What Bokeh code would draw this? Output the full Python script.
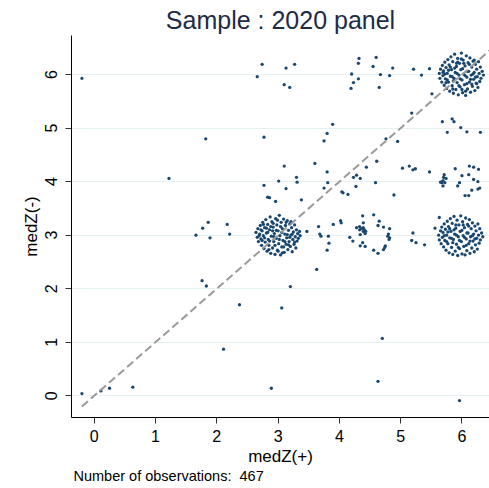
from bokeh.plotting import figure
from bokeh.models import Range1d, FixedTicker, Title
from bokeh.embed import file_html
from bokeh.resources import INLINE

TITLE = "Sample : 2020 panel"
X_LABEL = "medZ(+)"
Y_LABEL = "medZ(-)"
NOTE = "Number of observations:\u00a0\u00a0467"
TICKS = [0, 1, 2, 3, 4, 5, 6]
DIAGONAL = [-0.2, 6.45]

# scattered observations (medZ(+), medZ(-))
other_points = [
    (-0.20, 5.93), (2.74, 6.19), (2.66, 5.96), (3.13, 6.12), (3.27, 6.19), (3.10, 5.81), (3.19, 5.76),
    (4.32, 6.30), (4.31, 6.21), (4.60, 6.32), (4.55, 6.15), (4.87, 6.12), (4.20, 6.01), (4.67, 6.00),
    (4.82, 5.98), (4.31, 5.92), (4.23, 5.85), (4.19, 5.74), (4.65, 5.76), (5.21, 6.10), (5.34, 5.99),
    (5.47, 6.11), (5.51, 5.64), (5.18, 5.28), (5.68, 5.12), (5.84, 5.17), (5.87, 5.12), (5.98, 5.01),
    (5.76, 4.92), (6.08, 4.93), (6.30, 4.92), (3.89, 5.07), (3.80, 4.90), (3.75, 4.76), (4.76, 4.80),
    (4.95, 4.75), (1.82, 4.80), (2.77, 4.83), (1.22, 4.06), (3.60, 4.34), (3.10, 4.29), (3.30, 4.08),
    (3.01, 4.01), (3.31, 3.99), (2.77, 3.93), (3.13, 3.87), (3.80, 4.18), (3.81, 3.98), (3.75, 3.88),
    (2.83, 3.71), (2.86, 3.70), (3.38, 3.66), (2.96, 3.63), (4.44, 4.27), (4.61, 4.38), (4.23, 4.08),
    (4.28, 4.12), (4.34, 4.06), (4.27, 3.91), (4.59, 3.98), (4.04, 3.81), (4.06, 3.79), (4.14, 3.76),
    (4.89, 3.75), (5.03, 4.25), (5.14, 4.29), (5.20, 4.22), (5.24, 4.24), (5.47, 4.18),
    (5.71, 4.13), (5.70, 4.08), (5.74, 4.06), (5.69, 4.02), (5.67, 3.98), (5.65, 3.99), (5.72, 3.98),
    (5.69, 3.92), (5.89, 4.24), (6.00, 4.11), (6.12, 4.29), (6.19, 4.27), (6.27, 4.23), (6.11, 4.13),
    (6.19, 4.04), (6.26, 4.00), (5.96, 3.98), (5.93, 3.92), (6.29, 3.88), (6.26, 3.86), (6.16, 3.84),
    (6.05, 3.74), (6.11, 3.74),
    (1.66, 3.00), (1.77, 3.13), (1.86, 3.24), (1.89, 2.95), (2.17, 3.20), (2.21, 3.02), (1.76, 2.15),
    (1.83, 2.05), (2.37, 1.70), (2.11, 0.87), (-0.20, 0.04), (0.11, 0.09), (0.25, 0.14), (0.63, 0.16),
    (2.89, 0.14), (4.70, 1.07), (4.63, 0.27), (5.96, -0.09), (3.06, 1.64), (3.20, 2.04), (3.63, 2.36),
    (5.63, 3.33), (5.56, 3.13), (5.20, 3.04), (5.18, 2.90), (5.25, 2.86), (5.39, 2.82), (3.47, 3.07),
    (3.66, 3.16), (3.68, 3.02), (3.70, 2.98), (3.82, 2.98), (3.83, 2.85), (3.80, 2.72), (3.90, 3.20),
    (4.02, 3.27), (4.03, 3.23),
    (4.38, 3.36), (4.56, 3.38), (4.39, 3.23), (4.65, 3.26), (4.63, 3.18), (4.72, 3.15), (4.82, 3.12),
    (4.28, 3.14), (4.33, 3.16), (4.36, 3.12), (4.39, 3.14), (4.41, 3.10), (4.33, 3.10), (4.39, 3.07),
    (4.42, 3.03), (4.34, 3.01), (4.43, 3.07), (4.17, 2.96), (4.22, 2.89), (4.38, 2.86), (4.34, 2.80),
    (4.42, 2.79), (4.56, 2.72), (4.63, 2.66), (4.72, 2.73), (4.74, 2.77), (4.75, 2.80), (4.79, 2.98),
    (4.82, 2.95), (4.81, 2.92), (4.80, 3.02),
]

# dense group near (3, 3)
group_3_3 = [
    (2.64, 3.05), (2.66, 2.96), (2.67, 3.12), (2.68, 2.88), (2.70, 3.02), (2.71, 3.18), (2.72, 2.93),
    (2.73, 2.81), (2.74, 3.08), (2.75, 3.24), (2.76, 2.99), (2.77, 2.75), (2.78, 3.14), (2.79, 2.87),
    (2.80, 3.29), (2.81, 3.04), (2.82, 2.70), (2.83, 3.20), (2.84, 2.92), (2.85, 2.81), (2.86, 3.10),
    (2.87, 3.34), (2.88, 2.66), (2.89, 2.98), (2.90, 3.25), (2.91, 2.76), (2.92, 3.15), (2.93, 2.88),
    (2.94, 3.03), (2.95, 2.64), (2.96, 3.31), (2.97, 2.94), (2.98, 3.19), (2.99, 2.72), (3.00, 3.08),
    (3.01, 2.84), (3.02, 3.37), (3.03, 2.99), (3.04, 2.63), (3.05, 3.24), (3.06, 2.78), (3.07, 3.12),
    (3.08, 2.90), (3.09, 3.30), (3.10, 2.68), (3.11, 3.02), (3.12, 3.18), (3.13, 2.83), (3.14, 2.95),
    (3.15, 3.27), (3.16, 2.73), (3.17, 3.09), (3.18, 2.88), (3.19, 3.21), (3.20, 2.79), (3.21, 3.00),
    (3.22, 3.14), (3.23, 2.69), (3.24, 2.92), (3.25, 3.06), (3.26, 2.83), (3.27, 3.19), (3.28, 2.97),
    (3.29, 2.76), (3.30, 3.10), (3.31, 2.89), (3.32, 3.03), (3.33, 2.94), (3.35, 3.07), (3.36, 2.99),
    (2.72, 3.10), (2.78, 2.95), (2.83, 3.05), (2.88, 3.16), (2.93, 2.97), (2.97, 3.09), (3.02, 2.92),
    (3.06, 3.05), (3.11, 2.88), (3.15, 3.01), (3.19, 2.96), (3.23, 3.02), (2.86, 2.89), (2.91, 3.08),
    (3.04, 3.16), (3.09, 2.78), (3.13, 3.24), (2.81, 3.13), (2.76, 3.20), (2.95, 2.81), (3.00, 2.70),
    (3.07, 2.67), (2.85, 2.73), (3.17, 2.82), (3.27, 2.87), (2.69, 2.99), (2.74, 2.90), (3.21, 3.25),
    (2.99, 3.28), (2.92, 3.22),
]

# dense group near (6, 6)
group_6_6 = [
    (5.63, 6.02), (5.64, 5.93), (5.65, 6.10), (5.67, 5.86), (5.68, 6.17), (5.69, 5.98), (5.70, 6.07),
    (5.71, 5.80), (5.72, 6.23), (5.73, 5.92), (5.74, 6.13), (5.75, 5.74), (5.76, 6.02), (5.77, 6.28),
    (5.78, 5.86), (5.79, 6.18), (5.80, 5.69), (5.81, 5.97), (5.82, 6.33), (5.83, 6.09), (5.84, 5.79),
    (5.85, 6.24), (5.86, 5.65), (5.87, 5.93), (5.88, 6.38), (5.89, 6.04), (5.90, 5.72), (5.91, 6.15),
    (5.92, 5.85), (5.93, 6.30), (5.94, 5.62), (5.95, 5.99), (5.96, 6.21), (5.97, 5.77), (5.98, 6.09),
    (5.99, 6.40), (6.00, 5.90), (6.01, 5.66), (6.02, 6.27), (6.03, 6.01), (6.04, 5.81), (6.05, 6.16),
    (6.06, 5.61), (6.07, 6.35), (6.08, 5.95), (6.09, 5.73), (6.10, 6.22), (6.11, 6.06), (6.12, 5.86),
    (6.13, 6.31), (6.14, 5.67), (6.15, 5.99), (6.16, 6.14), (6.17, 5.78), (6.18, 6.25), (6.19, 5.91),
    (6.20, 6.04), (6.21, 5.70), (6.22, 6.19), (6.23, 5.84), (6.24, 6.10), (6.25, 5.96), (6.26, 5.76),
    (6.27, 6.24), (6.28, 6.02), (6.29, 5.87), (6.30, 6.14), (6.31, 5.93), (6.33, 6.06), (6.35, 5.99),
    (5.72, 6.01), (5.78, 6.08), (5.84, 5.96), (5.88, 6.12), (5.92, 6.02), (5.97, 5.92), (6.01, 6.11),
    (6.05, 5.98), (6.09, 6.06), (6.14, 5.91), (6.18, 6.01), (6.22, 5.95), (5.86, 5.88), (5.91, 6.21),
    (6.03, 6.21), (6.08, 5.83), (6.12, 6.19), (5.81, 6.14), (5.76, 5.90), (5.95, 5.79), (6.00, 5.72),
    (6.06, 5.69), (5.85, 5.73), (6.16, 5.82), (6.24, 5.83), (5.69, 6.04), (5.74, 5.85), (6.20, 6.27),
    (5.99, 6.29), (5.93, 6.23),
]

# dense group near (6, 3)
group_6_3 = [
    (5.62, 3.00), (5.63, 2.91), (5.65, 3.08), (5.66, 2.84), (5.67, 3.15), (5.68, 2.96), (5.69, 3.05),
    (5.70, 2.78), (5.71, 3.21), (5.72, 2.90), (5.73, 3.11), (5.74, 2.72), (5.75, 3.00), (5.76, 3.26),
    (5.77, 2.84), (5.78, 3.16), (5.79, 2.67), (5.80, 2.95), (5.81, 3.31), (5.82, 3.07), (5.83, 2.77),
    (5.84, 3.22), (5.85, 2.64), (5.86, 2.92), (5.87, 3.35), (5.88, 3.02), (5.89, 2.70), (5.90, 3.13),
    (5.91, 2.83), (5.92, 3.28), (5.93, 2.62), (5.94, 2.97), (5.95, 3.19), (5.96, 2.75), (5.97, 3.07),
    (5.98, 3.36), (5.99, 2.88), (6.00, 2.65), (6.01, 3.25), (6.02, 2.99), (6.03, 2.79), (6.04, 3.14),
    (6.05, 2.63), (6.06, 3.32), (6.07, 2.93), (6.08, 2.71), (6.09, 3.20), (6.10, 3.04), (6.11, 2.84),
    (6.12, 3.29), (6.13, 2.66), (6.14, 2.97), (6.15, 3.12), (6.16, 2.76), (6.17, 3.23), (6.18, 2.89),
    (6.19, 3.02), (6.20, 2.69), (6.21, 3.17), (6.22, 2.82), (6.23, 3.08), (6.24, 2.94), (6.25, 2.74),
    (6.26, 3.21), (6.27, 3.00), (6.28, 2.85), (6.29, 3.12), (6.30, 2.91), (6.32, 3.04), (6.34, 2.97),
    (5.71, 2.99), (5.77, 3.06), (5.83, 2.94), (5.87, 3.10), (5.91, 3.00), (5.96, 2.90), (6.00, 3.09),
    (6.04, 2.96), (6.08, 3.04), (6.13, 2.89), (6.17, 2.99), (6.21, 2.93), (5.85, 2.86), (5.90, 3.19),
    (6.02, 3.19), (6.07, 2.81), (6.11, 3.17), (5.80, 3.12), (5.75, 2.88), (5.94, 2.77),
]

all_points = other_points + group_3_3 + group_6_6 + group_6_3
xs = [pt[0] for pt in all_points]
ys = [pt[1] for pt in all_points]

FONT = "Liberation Sans"
NAVY = "#1a476f"

p = figure(width=489, height=488, x_range=Range1d(-0.370, 6.449), y_range=Range1d(-0.406, 6.729),
           output_backend="svg", toolbar_location=None,
           min_border_left=71, min_border_right=0, min_border_top=35, min_border_bottom=71)
p.outline_line_color = None
p.background_fill_color = "white"
p.border_fill_color = "white"

p.title.text = TITLE
p.title.align = "center"
p.title.offset = 6
p.title.standoff = 4
p.title.text_font = FONT
p.title.text_font_size = "25px"
p.title.text_font_style = "normal"
p.title.text_color = "#1d2b45"

p.xgrid.visible = False
p.ygrid.ticker = FixedTicker(ticks=TICKS)
p.ygrid.grid_line_color = "#e6eff2"
p.ygrid.grid_line_width = 1

for ax in (p.xaxis, p.yaxis):
    ax.ticker = FixedTicker(ticks=TICKS)
    ax.minor_tick_line_color = None
    ax.major_tick_in = 0
    ax.major_tick_out = 6
    ax.major_tick_line_color = "#333333"
    ax.axis_line_color = "black"
    ax.major_label_text_font = FONT
    ax.major_label_text_font_size = "16px"
    ax.major_label_text_color = "black"
    ax.axis_label_text_font = FONT
    ax.axis_label_text_font_size = "17px"
    ax.axis_label_text_font_style = "normal"
    ax.axis_label_text_color = "black"

p.yaxis.axis_label = Y_LABEL
p.yaxis.major_label_orientation = "vertical"
p.xaxis.major_label_standoff = 6
p.yaxis.major_label_standoff = 8
p.yaxis.axis_label_standoff = 2

xlabel_title = Title(text=X_LABEL, align="center", offset=6, standoff=0, text_font=FONT,
                     text_font_size="17px", text_font_style="normal", text_color="black")
p.add_layout(xlabel_title, "below")
note_title = Title(text=NOTE, align="left", offset=2, standoff=0, text_font=FONT,
                   text_font_size="14.5px", text_font_style="normal", text_color="black")
p.add_layout(note_title, "below")

p.scatter(xs, ys, size=3.3, marker="circle", fill_color=NAVY, line_color=None)
p.line(DIAGONAL, DIAGONAL, line_color="#9a9a9a", line_width=2, line_dash="8 4")

open("out.html", "w").write(file_html(p, INLINE))
